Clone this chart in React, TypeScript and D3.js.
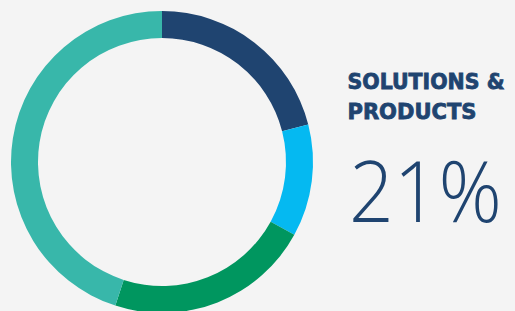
import { useMemo } from 'react';
import * as d3 from 'd3';

const SEGMENTS = ['Solutions & Products', 'Services', 'Operations', 'Other'];
const SHARES = [21, 12, 22, 45];
const COLORS = ['#1f4470', '#05b9f1', '#00965f', '#38b7aa'];
const TITLE_LINES = ['SOLUTIONS &', 'PRODUCTS'];
const HEADLINE = '21%';

const WIDTH = 515;
const HEIGHT = 311;

export default function App() {
  const cx = 162;
  const cy = 162;
  const outer = 151;
  const inner = 124;

  const arcs = useMemo(() => {
    const pie = d3.pie<number>().sort(null).value((d) => d);
    return pie(SHARES);
  }, []);

  const arc = d3.arc<d3.PieArcDatum<number>>().innerRadius(inner).outerRadius(outer);

  return (
    <svg
      width={WIDTH}
      height={HEIGHT}
      style={{ position: 'fixed', left: 0, top: 0, background: '#f4f4f4' }}
    >
      <rect width={WIDTH} height={HEIGHT} fill="#f4f4f4" />
      <g transform={`translate(${cx},${cy})`}>
        {arcs.map((a, i) => (
          <path key={SEGMENTS[i]} d={arc(a) || ''} fill={COLORS[i]} />
        ))}
      </g>
      {TITLE_LINES.map((t, i) => (
        <text
          key={t}
          x={347.5}
          y={88.5 + i * 30}
          fill="#1f4470"
          stroke="#1f4470"
          strokeWidth={0.8}
          fontFamily="'DejaVu Sans', sans-serif"
          fontWeight={900}
          fontSize={21}
          textLength={i === 0 ? 157 : 129}
          lengthAdjust="spacingAndGlyphs"
        >
          {t}
        </text>
      ))}
      <text
        x={349}
        y={222}
        fill="#1f4470"
        fontFamily="'Open Sans', Lato, sans-serif"
        fontWeight={300}
        fontSize={84}
        textLength={153}
        lengthAdjust="spacingAndGlyphs"
      >
        {HEADLINE}
      </text>
    </svg>
  );
}
